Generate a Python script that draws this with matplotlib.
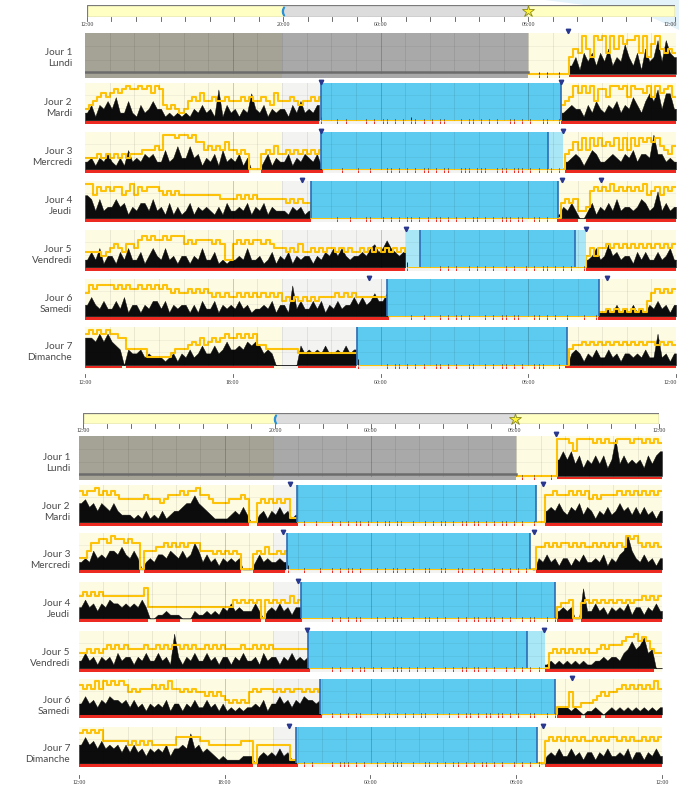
import numpy as np
import matplotlib
matplotlib.use("Agg")
import matplotlib.pyplot as plt
from matplotlib.patches import Rectangle, Polygon

plt.rcParams['font.family'] = ['Lato', 'DejaVu Sans']

W, H = 679, 789

day_labels = ["Jour 1\nLundi", "Jour 2\nMardi", "Jour 3\nMercredi", "Jour 4\nJeudi",
              "Jour 5\nVendredi", "Jour 6\nSamedi", "Jour 7\nDimanche"]

top_ticks = [0, 8, 12, 18, 24]
top_tick_labels = ["12:00", "20:00", "00:00", "06:00", "12:00"]
bottom_ticks = [0, 6, 12, 18, 24]
bottom_tick_labels = ["12:00", "18:00", "00:00", "06:00", "12:00"]

# ---- Recording 1 -------------------------------------------------------
# 10-minute epochs from 12:00 to 12:00 (one group of 6 per hour).
# digits = level, '-' = no activity scored, '.' = no recording
p1_activity = [
    "...... ...... ...... ...... ...... ...... ...... ...... ...... ...... ...... ...... "
    "...... ...... ...... ...... ...... ...... 001010 010024 153525 362437 425163 483854",
    "241435 362252 142353 312121 213242 318142 313273 241323 314252 324200 010100 001010 "
    "110101 021010 101100 010110 101010 011010 100110 012343 314253 243524 364257 583773",
    "231324 213152 324342 252363 363413 241523 2413-- -24132 241324 324100 001000 100100 "
    "011010 101011 010110 011101 110011 101110 101011 010234 313542 234324 352443 944232",
    "652523 353413 244252 314131 241323 213142 232413 241322 213231 200000 010010 001100 "
    "101010 110101 011010 101011 010101 110110 011010 013242 --2413 242523 323542 372423",
    "242513 314252 241353 252313 313252 241212 232522 312413 241323 313243 535323 343564 "
    "575434 400000 001010 100101 010100 101001 010110 101010 012352 363423 314242 242352",
    "353242 242513 313244 241323 313142 241323 242312 232413 318242 242413 242335 353464 "
    "460000 010010 001010 110100 010101 101100 011010 100100 010011 121312 131213 242313",
    "776868 654-43 342322 212313 242353 353464 454656 5343-- ----53 434353 343534 400000 "
    "010110 101010 011010 100110 010101 101010 011100 010034 313242 242313 323242 282313",
]
p1_light = [
    "...... ...... ...... ...... ...... ...... ...... ...... ...... ...... ...... ...... "
    "...... ...... ...... ...... ...... ...... 000000 000046 596498 959697 889594 796565",
    "345676 787898 898979 843432 356575 565565 556565 565475 556545 565600 000000 000000 "
    "000000 000000 000000 000000 000000 000000 000000 004569 797958 869989 698879 697896",
    "333434 343434 445556 599989 989775 656575 545400 045464 454545 454500 000000 000000 "
    "000000 000000 000000 000000 000000 000000 000000 000457 585868 676858 586878 786546",
    "996878 788679 687888 767676 666666 666555 565656 555555 545454 400000 000000 000000 "
    "000000 000000 000000 000000 000000 000000 000000 004545 223787 879787 878796 786878",
    "444434 565466 578787 787888 676777 767622 676767 767655 545464 454545 545454 454545 "
    "454545 400000 000000 000000 000000 000000 000000 000000 003535 565656 565656 565656",
    "687888 878787 787878 787676 676767 656565 565656 565656 454545 454555 565656 555555 "
    "550000 000000 000000 000000 000000 000000 000000 000000 000001 121212 121214 676767",
    "898989 887744 444222 222344 456575 676787 787878 554444 444433 333333 333333 300000 "
    "000000 000000 000000 000000 000000 000000 000000 000045 565656 565656 565656 656565",
]
# hours after 12:00
p1_no_data_end = [18.0, 0, 0, 0, 0, 0, 0]
p1_in_bed = [(18.0, 19.6), (9.58, 19.33), (9.59, 19.43), (9.17, 19.21),
             (13.02, 20.33), (12.27, 20.86), (11.06, 19.58)]
p1_sleep = [None, (9.58, 19.33), (9.59, 18.82), (9.17, 19.21),
            (13.62, 19.89), (12.27, 20.86), (11.06, 19.58)]
p1_rest = [None, None, (9.59, 19.43), None, (13.02, 20.33), None, None]
p1_events = [[19.6], [9.58, 19.33], [9.59, 19.43], [8.82, 19.37, 20.94],
             [13.02, 20.33], [11.55, 21.2], []]

# ---- Recording 2 -------------------------------------------------------
p2_activity = [
    "...... ...... ...... ...... ...... ...... ...... ...... ...... ...... ...... ...... "
    "...... ...... ...... ...... ...... ...... 010010 001046 463524 353524 935343 425356",
    "564535 435322 212131 213123 345575 432111 123242 --2313 242312 010010 001010 101101 "
    "010110 110010 010101 101011 011010 101101 01001- -34353 243524 313242 353424 242313",
    "232534 355464 353-23 244354 353475 242313 2323-- -24232 232300 010001 001010 110100 "
    "010101 101010 011001 100110 010100 101010 1010-3 242313 313242 232413 245953 242313",
    "353424 354434 34353- -11211 1---21 121213 242322 242-23 242313 300000 001010 101100 "
    "010101 110010 011010 100101 011011 101010 010110 010123 23--82 242313 232413 313242",
    "242313 231423 313242 242319 313242 242313 313242 231423 313242 323000 001010 010110 "
    "101001 110101 010100 101011 011010 100101 010101 012121 212121 122323 324575 6845--",
    "353424 354434 242313 232413 313242 242313 121212 232413 353424 354434 001010 101100 "
    "010110 101010 110010 010101 101011 011010 100110 010122 2121-1 121-12 121212 121212",
    "575646 454535 353424 343524 454845 343212 111122 2-2323 242311 010100 001011 101010 "
    "010101 110010 011010 101101 010110 101001 010101 -23242 242313 313242 232413 313242",
]
p2_light = [
    "...... ...... ...... ...... ...... ...... ...... ...... ...... ...... ...... ...... "
    "...... ...... ...... ...... ...... ...... 000000 000099 986999 989898 899989 989898",
    "878897 878766 666676 665677 787889 776555 566676 005656 565611 000000 000000 000000 "
    "000000 000000 000000 000000 000000 000000 000000 077877 787878 676777 787878 787878",
    "335778 879887 877055 566767 676777 555454 545400 045464 454500 000000 000000 000000 "
    "000000 000000 000000 000000 000000 000000 000006 676767 767676 676767 676989 767676",
    "676767 666666 666683 333333 333333 333333 335454 545054 545464 500000 000000 000000 "
    "000000 000000 000000 000000 000000 000000 000000 000034 450045 454545 454545 565656",
    "445454 565656 555565 565656 656565 565656 555565 565656 555555 555000 000000 000000 "
    "000000 000000 000000 000000 000000 000000 000000 004545 454545 445656 667889 787544",
    "878797 989898 676777 878797 767676 656565 434343 676777 676767 767676 000000 000000 "
    "000000 000000 000000 000000 000000 000000 000000 000022 262233 345656 678787 878797",
    "898989 666666 565656 555555 777777 665555 555566 605555 555511 000000 000000 000000 "
    "000000 000000 000000 000000 000000 000000 000000 067676 767676 676767 767676 676767",
]
p2_no_data_end = [18.0, 0, 0, 0, 0, 0, 0]
p2_in_bed = [(18.0, 19.64), (8.96, 19.18), (8.58, 18.73), (9.13, 19.6),
             (9.43, 19.18), (9.92, 19.6), (8.93, 19.05)]
p2_sleep = [None, (8.96, 18.81), (8.58, 18.57), (9.13, 19.6),
            (9.43, 18.43), (9.92, 19.6), (8.93, 18.86)]
p2_rest = [None, None, None, None, (9.43, 19.18), None, None]
p2_events = [[19.64], [8.69, 19.1], [8.4, 18.73], [9.02], [9.39, 19.14], [20.3], [8.65, 19.1]]

# ---- styling -----------------------------------------------------------
DAY_BG = "#fefbe3"
NIGHT_BG = "#f3f3f1"
BLUE = "#5ccbef"
CYAN = "#a9e6f6"
EDGE = "#2c6db4"
MARK = "#29388e"
RED = "#ec2a22"
LIGHT = "#fcc30a"
ACT = "#0c0c0c"
BAR_DAY = "#ffffc4"
BAR_NIGHT = "#dcdcdc"
BASE = 0.09
UNIT = 0.094

panel1 = dict(bar=(87, 675, 5, 17), bar_lab_y=25, rows_x=(85, 676),
              tops=[33, 83, 132, 181, 230, 279, 327], heights=[45, 41, 41, 41, 41, 41, 42],
              lab_x=72, lab_dy=25, bottom=(85, 676, 376, 383))
panel2 = dict(bar=(83, 659, 413, 424), bar_lab_y=431, rows_x=(79, 662),
              tops=[436, 485, 533, 582, 631, 679, 727], heights=[44, 41, 40, 40, 41, 39, 40],
              lab_x=70, lab_dy=27, bottom=(79, 662, 777, 783))

fig = plt.figure(figsize=(W / 100, H / 100), dpi=100)

# faint watermark sweep in the top-right corner
fig.patches.append(Polygon([[545 / W, 1.0], [679 / W, 1.0], [679 / W, 1 - 30 / H],
                            [640 / W, 1 - 12 / H]], closed=True, transform=fig.transFigure,
                           fc='#e4f2fa', ec='none', zorder=-1))


def px_axes(x0, x1, y0, y1):
    return fig.add_axes([x0 / W, 1 - y1 / H, (x1 - x0) / W, (y1 - y0) / H])


def parse(s):
    s = "".join(s.split())
    vals = np.array([float(c) if c.isdigit() else 0.0 for c in s])
    has_data = np.array([c != '.' for c in s])
    scored = np.array([c.isdigit() for c in s])
    return vals, has_data, scored


def runs(mask):
    out, start = [], None
    for i, m in enumerate(mask):
        if m and start is None:
            start = i
        if not m and start is not None:
            out.append((start, i))
            start = None
    if start is not None:
        out.append((start, len(mask)))
    return out


def fig_label_x(xpix):
    # keep labels at the right border readable
    return min(xpix, W - 9)


def draw_top_bar(p):
    x0, x1, y0, y1 = p["bar"]
    ax = px_axes(x0, x1, y0, y1)
    ax.set_xlim(0, 24)
    ax.set_ylim(0, 1)
    ax.axis('off')
    ax.add_patch(Rectangle((0, 0), 8, 1, fc=BAR_DAY, ec='none'))
    ax.add_patch(Rectangle((8, 0), 10, 1, fc=BAR_NIGHT, ec='none'))
    ax.add_patch(Rectangle((18, 0), 6, 1, fc=BAR_DAY, ec='none'))
    ax.add_patch(Rectangle((0, 0), 24, 1, fill=False, ec='#7a7a7a', lw=0.9))
    for h in range(25):
        ax.plot([h, h], [0, -0.32], color='#555555', lw=0.6, clip_on=False)
    ax.plot(8, 0.5, marker=r'$($', ms=6, color='#2a90d8', zorder=5)
    ax.plot(18, 0.5, marker='*', ms=9, mfc='#fff23a', mec='#8a8a1c', mew=0.6, zorder=5)
    for h, lab in zip(top_ticks, top_tick_labels):
        xp = fig_label_x(x0 + h * (x1 - x0) / 24)
        fig.text(xp / W, 1 - p["bar_lab_y"] / H, lab,
                 ha='center', va='center', fontsize=4.2, color='#333333',
                 family='Liberation Serif')


def draw_bottom_axis(p):
    x0, x1, ytick, ylab = p["bottom"]
    for h, lab in zip(bottom_ticks, bottom_tick_labels):
        xt = x0 + h * (x1 - x0) / 24
        xf = xt / W
        fig.lines.append(plt.Line2D([xf, xf], [1 - (ytick - 2) / H, 1 - (ytick + 1) / H],
                                    transform=fig.transFigure, color='#555555', lw=0.6))
        fig.text(fig_label_x(xt) / W, 1 - ylab / H, lab, ha='center', va='center',
                 fontsize=4.2, color='#333333', family='Liberation Serif')


def draw_row(p, k, act_s, light_s, no_data_end, bed, sleep, rest, events):
    x0, x1 = p["rows_x"]
    top = p["tops"][k]
    ax = px_axes(x0, x1, top, top + p["heights"][k])
    ax.set_xlim(0, 24)
    ax.set_ylim(0, 1)
    ax.axis('off')

    ax.add_patch(Rectangle((0, 0), 8, 1, fc=DAY_BG, ec='none', zorder=0))
    ax.add_patch(Rectangle((8, 0), 10, 1, fc=NIGHT_BG, ec='none', zorder=0))
    ax.add_patch(Rectangle((18, 0), 6, 1, fc=DAY_BG, ec='none', zorder=0))

    act, has_data, scored = parse(act_s)
    lux, lux_ok, _ = parse(light_s)
    n = len(act)
    t = np.arange(n) / 6.0
    centers = t + 1 / 12
    edges = np.append(t, 24.0)
    in_bed = (centers > bed[0]) & (centers < bed[1])

    # activity during wake, drawn through epoch centres
    wake = has_data & ~in_bed
    for s, e in runs(wake):
        xs = np.concatenate([[edges[s]], centers[s:e], [edges[e]]])
        ys = np.concatenate([[act[s]], act[s:e], [act[e - 1]]])
        ax.fill_between(xs, BASE, BASE + ys * UNIT, color=ACT, lw=0.3, ec=ACT, zorder=2)

    # light trace, one level per epoch
    for s, e in runs(lux_ok):
        xs = edges[s:e + 1]
        ys = np.append(lux[s:e], lux[e - 1])
        ax.plot(xs, BASE + ys * UNIT, drawstyle='steps-post', color=LIGHT, lw=1.5,
                zorder=2.5)

    # red bar over scored wake epochs
    for s, e in runs(scored & ~in_bed):
        ax.add_patch(Rectangle((edges[s], 0.012), edges[e] - edges[s], 0.06,
                               fc=RED, ec='none', zorder=2.6))

    # rest / sleep intervals
    if rest is not None:
        ax.add_patch(Rectangle((rest[0], 0.1), rest[1] - rest[0], 0.9, fc=CYAN,
                               ec='none', zorder=3))
    if sleep is not None:
        ax.add_patch(Rectangle((sleep[0], 0.1), sleep[1] - sleep[0], 0.9, fc=BLUE,
                               ec='none', zorder=3.1))

    # movements while in bed
    mv = in_bed & scored & (act > 0)
    ax.vlines(centers[mv], 0.0, 0.075, color=RED, lw=0.7, zorder=3.3)
    ax.vlines(centers[mv], BASE, BASE + act[mv] * 0.035, color=ACT, lw=0.6, zorder=3.3)

    # no recording
    if no_data_end > 0:
        ax.add_patch(Rectangle((0, 0), min(8, no_data_end), 1, fc='#a5a395', ec='none', zorder=3.2))
        ax.add_patch(Rectangle((8, 0), no_data_end - 8, 1, fc='#a9a9a9', ec='none', zorder=3.2))
        ax.plot([0, no_data_end], [0.14, 0.14], color='#6c6c6c', lw=1.8, zorder=3.6)

    # grid
    for h in range(1, 24):
        strong = h % 6 == 0
        ax.plot([h, h], [0.1, 1.0], color='black', alpha=0.2 if strong else 0.08,
                lw=0.7, zorder=3.5)
    for yg in (0.4, 0.7):
        ax.plot([0, 24], [yg, yg], color='black', alpha=0.05, lw=0.6, zorder=3.5)

    if sleep is not None:
        ax.vlines([sleep[0], sleep[1]], 0.1, 1.0, color=EDGE, lw=1.2, zorder=4)
    for ev in events:
        ax.plot(ev, 1.035, marker='v', ms=3.2, color=MARK, clip_on=False, zorder=6)

    fig.text(p["lab_x"] / W, 1 - (top + p["lab_dy"]) / H, day_labels[k],
             ha='right', va='center', fontsize=7.2, color='#4a4a4a',
             multialignment='right', linespacing=1.25)


for p, acts, lights, nde, beds, sleeps, rests, evs in [
        (panel1, p1_activity, p1_light, p1_no_data_end, p1_in_bed, p1_sleep, p1_rest, p1_events),
        (panel2, p2_activity, p2_light, p2_no_data_end, p2_in_bed, p2_sleep, p2_rest, p2_events)]:
    draw_top_bar(p)
    for k in range(7):
        draw_row(p, k, acts[k], lights[k], nde[k], beds[k], sleeps[k], rests[k], evs[k])
    draw_bottom_axis(p)

fig.savefig("out.png", dpi=100)
